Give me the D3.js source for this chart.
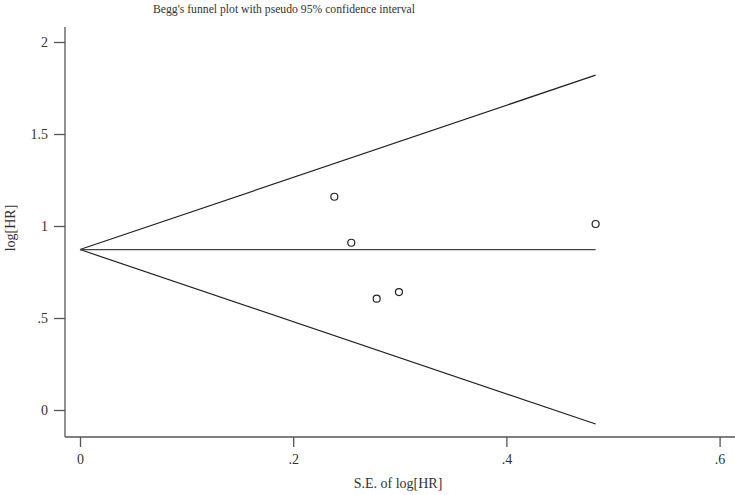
<!DOCTYPE html>
<html><head><meta charset="utf-8">
<script src="https://cdn.jsdelivr.net/npm/d3@7"></script>
<style>body{margin:0;background:#fff}svg{display:block}</style>
</head><body>
<script>
const seValues = [0.2386, 0.2545, 0.2783, 0.2992, 0.4837];
const logHR = [1.159, 0.909, 0.605, 0.641, 1.011];
const summary = 0.872;
const funnelMaxSE = 0.4837;
const xTicks = [0, 0.2, 0.4, 0.6];
const yTicks = [0, 0.5, 1, 1.5, 2];
const fmt = v => v === 0 ? "0" : String(v).replace(/^0\./, ".");
const FONT = '"Liberation Serif", "DejaVu Serif", serif';

const W = 735, H = 495;
const svg = d3.select("body").append("svg").attr("width", W).attr("height", H)
  .attr("font-family", FONT);
const x = d3.scaleLinear().domain([0, 0.6]).range([80, 719.6]);
const y = d3.scaleLinear().domain([0, 2]).range([410, 42]);
const axisColor = "#555";

svg.append("line").attr("x1", 65).attr("x2", 65).attr("y1", 27).attr("y2", 437).attr("stroke", axisColor).attr("stroke-width", 1.3);
svg.append("line").attr("x1", 65).attr("x2", 735).attr("y1", 437).attr("y2", 437).attr("stroke", axisColor).attr("stroke-width", 1.3);

const gx = svg.append("g").attr("transform", "translate(0,437)")
  .call(d3.axisBottom(x).tickValues(xTicks).tickFormat(fmt).tickSize(10).tickSizeOuter(0).tickPadding(7));
const gy = svg.append("g").attr("transform", "translate(65,0)")
  .call(d3.axisLeft(y).tickValues(yTicks).tickFormat(fmt).tickSize(11).tickSizeOuter(0).tickPadding(6));
[gx, gy].forEach(g => {
  g.attr("font-family", FONT).attr("font-size", 14);
  g.select(".domain").remove();
  g.selectAll(".tick line").attr("stroke", axisColor).attr("stroke-width", 1.3);
  g.selectAll(".tick text").attr("fill", "#333");
});

const z = 1.96;
const lineColor = "#222";
const lo = summary - z * funnelMaxSE, hi = summary + z * funnelMaxSE;
svg.append("line").attr("x1", x(0)).attr("y1", y(summary)).attr("x2", x(funnelMaxSE)).attr("y2", y(hi)).attr("stroke", lineColor).attr("stroke-width", 1.2);
svg.append("line").attr("x1", x(0)).attr("y1", y(summary)).attr("x2", x(funnelMaxSE)).attr("y2", y(lo)).attr("stroke", lineColor).attr("stroke-width", 1.2);
svg.append("line").attr("x1", x(0)).attr("y1", y(summary)).attr("x2", x(funnelMaxSE)).attr("y2", y(summary)).attr("stroke", "#444").attr("stroke-width", 1.2);

svg.selectAll("circle.pt").data(seValues.map((s, i) => [s, logHR[i]])).enter().append("circle")
  .attr("class", "pt").attr("cx", d => x(d[0])).attr("cy", d => y(d[1])).attr("r", 3.5)
  .attr("fill", "none").attr("stroke", "#222").attr("stroke-width", 1.2);

svg.append("text").attr("x", 284).attr("y", 13).attr("text-anchor", "middle").attr("font-size", 13.5)
  .attr("textLength", 262).attr("lengthAdjust", "spacingAndGlyphs")
  .attr("fill", "#333").text("Begg's funnel plot with pseudo 95% confidence interval");
svg.append("text").attr("x", 398).attr("y", 488).attr("text-anchor", "middle").attr("font-size", 14)
  .attr("fill", "#333").text("S.E. of log[HR]");
svg.append("text").attr("transform", "translate(15,228) rotate(-90)").attr("text-anchor", "middle").attr("font-size", 14)
  .attr("fill", "#333").text("log[HR]");
</script>
</body></html>
